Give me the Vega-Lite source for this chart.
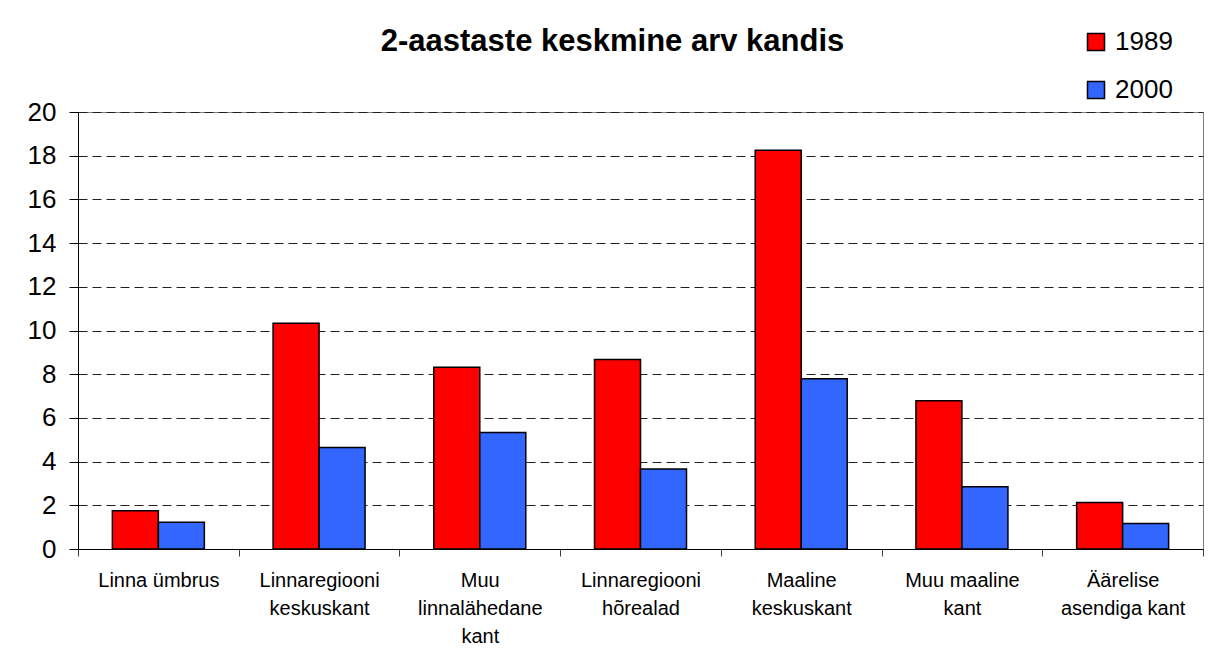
{
  "$schema": "https://vega.github.io/schema/vega-lite/v6.json",
  "width": 1125,
  "height": 437,
  "autosize": {"type": "none"},
  "padding": {"left": 78, "top": 112, "right": 20, "bottom": 111},
  "background": "white",
  "title": {
    "text": "2-aastaste keskmine arv kandis",
    "font": "Liberation Sans",
    "fontSize": 31,
    "fontWeight": "bold",
    "color": "black",
    "anchor": "middle",
    "dx": -28,
    "baseline": "alphabetic",
    "offset": -53
  },
  "data": {
    "values": [
      {"kant": "Linna ümbrus", "aasta": "1989", "arv": 1.75},
      {"kant": "Linna ümbrus", "aasta": "2000", "arv": 1.22},
      {"kant": "Linnaregiooni keskuskant", "aasta": "1989", "arv": 10.33},
      {"kant": "Linnaregiooni keskuskant", "aasta": "2000", "arv": 4.65},
      {"kant": "Muu linnalähedane kant", "aasta": "1989", "arv": 8.32},
      {"kant": "Muu linnalähedane kant", "aasta": "2000", "arv": 5.33},
      {"kant": "Linnaregiooni hõrealad", "aasta": "1989", "arv": 8.67},
      {"kant": "Linnaregiooni hõrealad", "aasta": "2000", "arv": 3.66},
      {"kant": "Maaline keskuskant", "aasta": "1989", "arv": 18.25},
      {"kant": "Maaline keskuskant", "aasta": "2000", "arv": 7.79},
      {"kant": "Muu maaline kant", "aasta": "1989", "arv": 6.79},
      {"kant": "Muu maaline kant", "aasta": "2000", "arv": 2.85},
      {"kant": "Äärelise asendiga kant", "aasta": "1989", "arv": 2.13},
      {"kant": "Äärelise asendiga kant", "aasta": "2000", "arv": 1.17}
    ]
  },
  "mark": {"type": "bar", "stroke": "black", "strokeWidth": 1.5},
  "encoding": {
    "x": {
      "field": "kant",
      "type": "nominal",
      "sort": null,
      "scale": {"paddingInner": 0, "paddingOuter": 0},
      "axis": {
        "title": null,
        "labelAngle": 0,
        "tickBand": "extent",
        "tickSize": 7,
        "tickColor": "#404040",
        "domainColor": "black",
        "labelFont": "Liberation Sans",
        "labelFontSize": 20,
        "labelColor": "black",
        "labelPadding": 14,
        "labelLineHeight": 28,
        "labelLimit": 200,
        "labelExpr": "datum.label == 'Linnaregiooni keskuskant' ? ['Linnaregiooni', 'keskuskant'] : datum.label == 'Muu linnalähedane kant' ? ['Muu', 'linnalähedane', 'kant'] : datum.label == 'Linnaregiooni hõrealad' ? ['Linnaregiooni', 'hõrealad'] : datum.label == 'Maaline keskuskant' ? ['Maaline', 'keskuskant'] : datum.label == 'Muu maaline kant' ? ['Muu maaline', 'kant'] : datum.label == 'Äärelise asendiga kant' ? ['Äärelise', 'asendiga kant'] : datum.label"
      }
    },
    "xOffset": {
      "field": "aasta",
      "type": "nominal",
      "scale": {"paddingInner": 0, "paddingOuter": 0.747}
    },
    "y": {
      "field": "arv",
      "type": "quantitative",
      "scale": {"domain": [0, 20], "nice": false},
      "axis": {
        "title": null,
        "values": [0, 2, 4, 6, 8, 10, 12, 14, 16, 18, 20],
        "tickSize": 9,
        "tickColor": "black",
        "domainColor": "black",
        "labelFont": "Liberation Sans",
        "labelFontSize": 26,
        "labelColor": "black",
        "labelPadding": 13,
        "grid": true,
        "gridColor": "#202020",
        "gridDash": [9, 5],
        "gridWidth": 1
      }
    },
    "color": {
      "field": "aasta",
      "type": "nominal",
      "scale": {"domain": ["1989", "2000"], "range": ["#FF0000", "#3366FF"]},
      "legend": {
        "title": null,
        "orient": "none",
        "legendX": 1005,
        "legendY": -83,
        "symbolType": "square",
        "symbolSize": 289,
        "symbolStrokeColor": "black",
        "symbolStrokeWidth": 1.5,
        "symbolOpacity": 1,
        "labelFont": "Liberation Sans",
        "labelFontSize": 26,
        "labelColor": "black",
        "labelOffset": 6,
        "rowPadding": 22
      }
    }
  },
  "config": {
    "view": {"stroke": "#808080", "strokeWidth": 1}
  }
}
